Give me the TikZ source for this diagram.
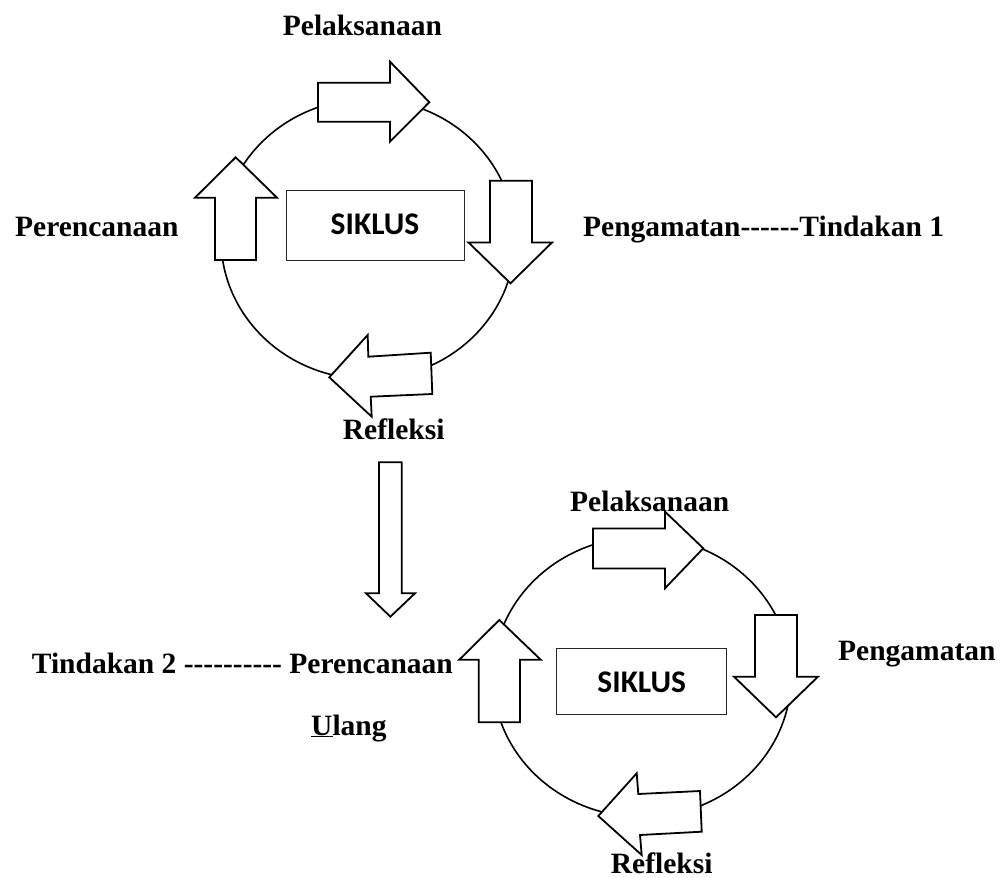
\documentclass[tikz,border=0pt]{standalone}
\usepackage{fontspec}
\setmainfont{Liberation Serif}[Ligatures=TeXOff]
\newfontfamily\calib{Carlito}
\tikzset{
  arrowshape/.style={draw=black, fill=white, line width=1.8pt, line join=miter},
  cyc/.style={draw=black, line width=1.6pt},
  lbl/.style={inner sep=0pt, anchor=base west, font=\fontsize{29.5}{35}\selectfont\bfseries},
  siklusbox/.style={draw=black!85, line width=1pt, fill=white},
  sikluslbl/.style={inner sep=0pt, font=\calib\fontsize{31.5}{36}\selectfont\bfseries}
}
\begin{document}
\begin{tikzpicture}[x=1pt, y=-1pt]
\useasboundingbox (0,0) rectangle (1005,878);

% ---------- top cycle ----------
\draw[cyc] (368,239) ellipse [x radius=147, y radius=140];
\draw[siklusbox] (286,190) rectangle (464,260.7);
\node[sikluslbl] (s1) at (375,224) {SIKLUS};

% Pelaksanaan (right arrow)
\draw[arrowshape] (318,82.7) -- (390,82.7) -- (390,61.7) -- (429.3,102.2) -- (390,141.7) -- (390,121.7) -- (318,121.7) -- cycle;
% Perencanaan (up arrow)
\draw[arrowshape] (215,260) -- (215,197.7) -- (195,197.7) -- (235.7,157.3) -- (277,197.7) -- (256,197.7) -- (256,260) -- cycle;
% Pengamatan (down arrow)
\draw[arrowshape] (490,180.7) -- (532,180.7) -- (532,242.5) -- (552,242.5) -- (510.5,283.3) -- (468.5,242.5) -- (490,242.5) -- cycle;
% Refleksi (left arrow)
\draw[arrowshape] (430.7,352.7) -- (368.3,356.7) -- (367.7,335) -- (329.3,377.3) -- (371.7,416.7) -- (370.7,396.7) -- (432.3,394) -- cycle;

\node[lbl] (p1) at (282.7,35) {Pelaksanaan};
\node[lbl] (r1) at (15,236.7) {Perencanaan};
\node[lbl] (g1) at (583,236.7) {Pengamatan------Tindakan 1};
\node[lbl] (f1) at (342.7,439.3) {Refleksi};

% ---------- arrow between cycles ----------
\draw[arrowshape] (379,462.3) -- (401.7,462.3) -- (401.7,593.3) -- (415,593.3) -- (390.4,616.7) -- (366,593.3) -- (379,593.3) -- cycle;

% ---------- bottom cycle ----------
\draw[cyc] (642,677) ellipse [x radius=149, y radius=140];
\draw[siklusbox] (556.7,648.3) rectangle (726.7,714);
\node[sikluslbl] (s2) at (641.7,682) {SIKLUS};

% Pelaksanaan (right arrow)
\draw[arrowshape] (593,528.5) -- (665,528.5) -- (665,511.7) -- (703.3,548.3) -- (665,588.3) -- (665,568.5) -- (593,568.5) -- cycle;
% Perencanaan (up arrow)
\draw[arrowshape] (478.7,722.3) -- (478.7,659.7) -- (459.3,659.7) -- (499.3,620) -- (540.7,659.7) -- (520,659.7) -- (520,722.3) -- cycle;
% Pengamatan (down arrow)
\draw[arrowshape] (755,615) -- (797,615) -- (797,676.7) -- (818,676.7) -- (776,717.3) -- (734,676.7) -- (755,676.7) -- cycle;
% Refleksi (left arrow)
\draw[arrowshape] (700,791) -- (638.3,794) -- (636.7,773.3) -- (598.3,816) -- (641.7,855) -- (640,835) -- (701.7,831.7) -- cycle;

\node[lbl] (p2) at (570,511.7) {Pelaksanaan};
\node[lbl] (g2) at (838,660) {Pengamatan};
\node[lbl] (t2) at (31.7,673.3) {Tindakan 2 ---------- Perencanaan};
\node[lbl] (u2) at (311,735) {\underline{U}lang};
\node[lbl] (f2) at (610.7,873.5) {Refleksi};
\end{tikzpicture}
\end{document}
